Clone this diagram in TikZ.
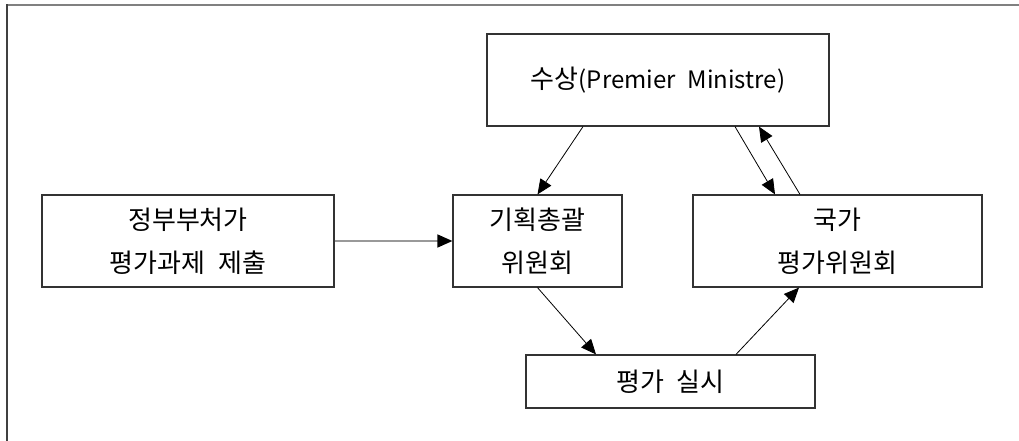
\documentclass[tikz,border=0pt]{standalone}
\usepackage{fontspec}
\usepackage{tikz}
\usetikzlibrary{arrows.meta}
\newfontfamily\kr{Noto Sans CJK KR}[WordSpace=2.2]
\newcommand{\latin}[1]{{\fontsize{24}{43}\selectfont #1}}

\tikzset{
  box/.style={draw=black!80, line width=1.2pt, align=center, inner sep=0pt,
    font=\kr\fontsize{26}{43}\selectfont},
  link/.style={draw=black, line width=0.8pt, -{Triangle[length=15pt,width=13pt,color=black]}}
}

\begin{document}
\begin{tikzpicture}[x=1pt, y=-1pt]
    \useasboundingbox (0, 0) rectangle (1019, 441);
    \draw[black!50, line width=2pt] (6.5, 5.5) -- (1019, 5.5);
    \draw[black!75, line width=2pt] (6.5, 4.5) -- (6.5, 441);

    \node[box, minimum width=342pt, minimum height=92pt] (pm) at (658, 80) {수상\latin{(Premier Ministre)}};
    \node[box, minimum width=292pt, minimum height=92pt] (gov) at (188, 241) {정부부처가\\평가과제 제출};
    \node[box, minimum width=169pt, minimum height=92pt] (plan) at (537.5, 241) {기획총괄\\위원회};
    \node[box, minimum width=289pt, minimum height=92pt] (nat) at (837.5, 241) {국가\\평가위원회};
    \node[box, minimum width=289pt, minimum height=53pt] (exec) at (670.5, 381.5) {평가 실시};

    \draw[link] ([xshift=-75pt]pm.south) -- (plan.north);
    \draw[link] ([xshift=77pt]pm.south) -- ([xshift=-62.5pt]nat.north);
    \draw[link] ([xshift=-37.5pt]nat.north) -- ([xshift=101pt]pm.south);
    \draw[link, draw=black!40, line width=1.5pt] (gov.east) -- (plan.west);
    \draw[link] (plan.south) -- ([xshift=-74.5pt]exec.north);
    \draw[link] ([xshift=65.5pt]exec.north) -- ([xshift=-38.5pt]nat.south);
  \end{tikzpicture}
\end{document}
